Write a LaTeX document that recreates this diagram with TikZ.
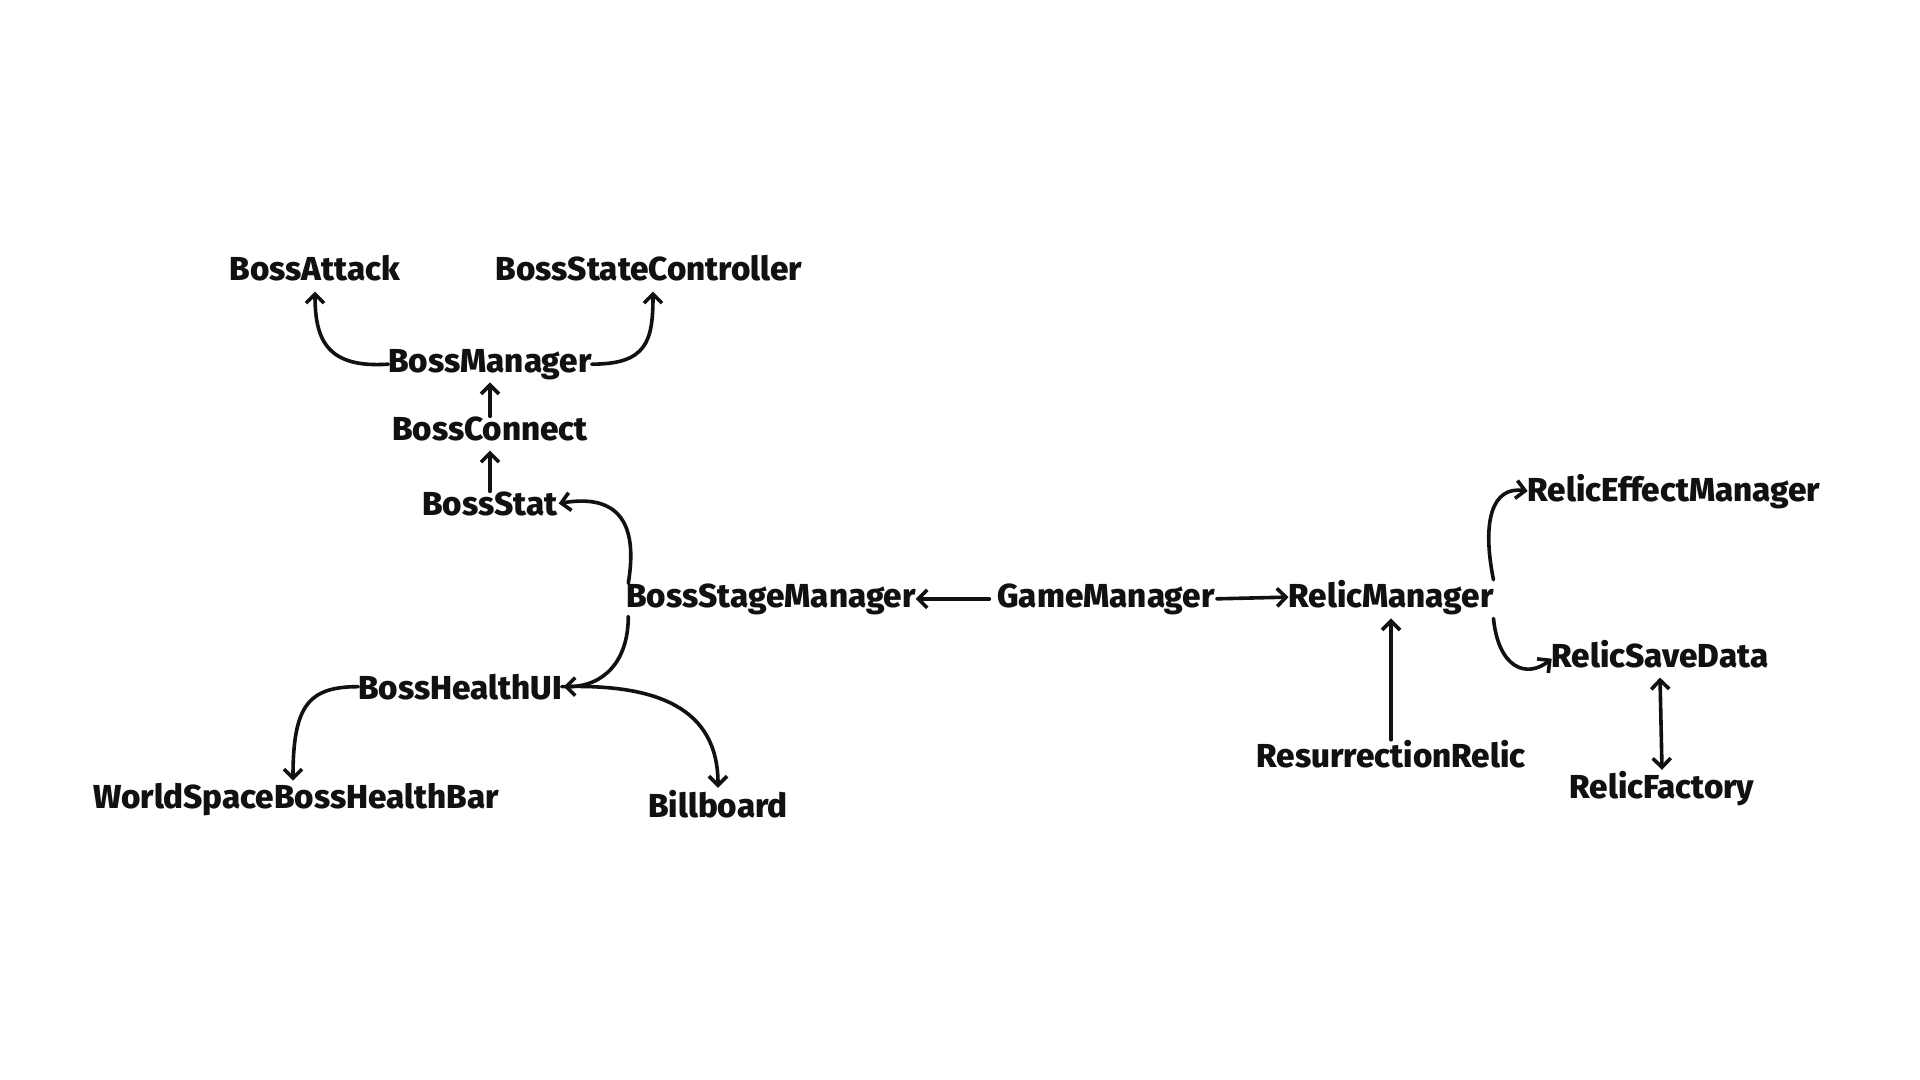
\documentclass[tikz,border=0pt]{standalone}
\usepackage{fontspec}
\setmainfont{Fira Sans}[BoldFont={Fira Sans ExtraBold}]
\usetikzlibrary{arrows.meta}
\definecolor{ink}{HTML}{111111}
\begin{document}
\begin{tikzpicture}[x=0.5pt,y=-0.5pt,
  lbl/.style={inner sep=0pt, outer sep=0pt, anchor=base, text=ink, font=\fontsize{16.6}{20}\selectfont\bfseries},
  tip/.tip={Straight Barb[length=4.5pt,width=9pt]},
  arr/.style={draw=ink, line width=1.8pt, line cap=round, line join=round, -tip},
  darr/.style={draw=ink, line width=1.8pt, line cap=round, line join=round, tip-tip}]
\fill[white] (0,0) rectangle (1920,1080);
\useasboundingbox (0,0) rectangle (1920,1080);

\node[lbl] (ba) at (315,281) {BossAttack};
\node[lbl] (bsc) at (649,281) {BossStateController};
\node[lbl] (bm) at (490,372) {BossManager};
\node[lbl] (bc) at (490,440) {BossConnect};
\node[lbl] (bs) at (490,515) {BossStat};
\node[lbl] (bsm) at (771,607) {BossStageManager};
\node[lbl] (gm) at (1106,607) {GameManager};
\node[lbl] (rm) at (1391,607) {RelicManager};
\node[lbl] (rem) at (1674,501) {RelicEffectManager};
\node[lbl] (rsd) at (1660,667) {RelicSaveData};
\node[lbl] (rr) at (1391,767) {ResurrectionRelic};
\node[lbl] (rf) at (1662,798) {RelicFactory};
\node[lbl] (bhui) at (460,699) {BossHealthUI};
\node[lbl] (ws) at (296,808) {WorldSpaceBossHealthBar};
\node[lbl] (bb) at (718,817) {Billboard};

\draw[arr] (bm.west) .. controls +(-60,4) and +(0,50) .. ([yshift=-5pt]ba.south);
\draw[arr] (bm.east) .. controls +(55,0) and +(0,50) .. ([xshift=2pt,yshift=-5pt]bsc.south);
\draw[arr] (bc.north) -- ([yshift=-1.5pt]bm.south);
\draw[arr] (bs.north) -- ([yshift=-5pt]bc.south);
\draw[arr] ([xshift=1pt]bsm.north west) .. controls +(10,-60) and +(60,-10) .. ([xshift=0.5pt]bs.east);
\draw[arr] ([xshift=1pt,yshift=-1pt]bsm.south west) .. controls +(0,45) and +(40,0) .. ([xshift=1pt]bhui.east);
\draw[arr] (bhui.west) .. controls +(-50,0) and +(0,-75) .. ([xshift=-1.5pt,yshift=1pt]ws.north);
\draw[arr] (bhui.east) .. controls +(95,-3) and +(0,-80) .. ([yshift=1pt]bb.north);
\draw[arr, shorten <=4pt] (gm.west) -- (bsm.east);
\draw[arr, shorten <=1pt] (gm.east) -- (rm.west);
\draw[arr] (rr.north) -- ([yshift=-2pt]rm.south);
\draw[arr] (rm.north east) .. controls +(-12,-60) and +(-35,-5) .. (rem.west);
\draw[arr] ([yshift=-2pt]rm.south east) .. controls +(5,50) and +(-25,20) .. ([yshift=-2.5pt]rsd.west);
\draw[darr] ([yshift=-5pt]rsd.south) -- ([yshift=0.5pt]rf.north);
\end{tikzpicture}
\end{document}
